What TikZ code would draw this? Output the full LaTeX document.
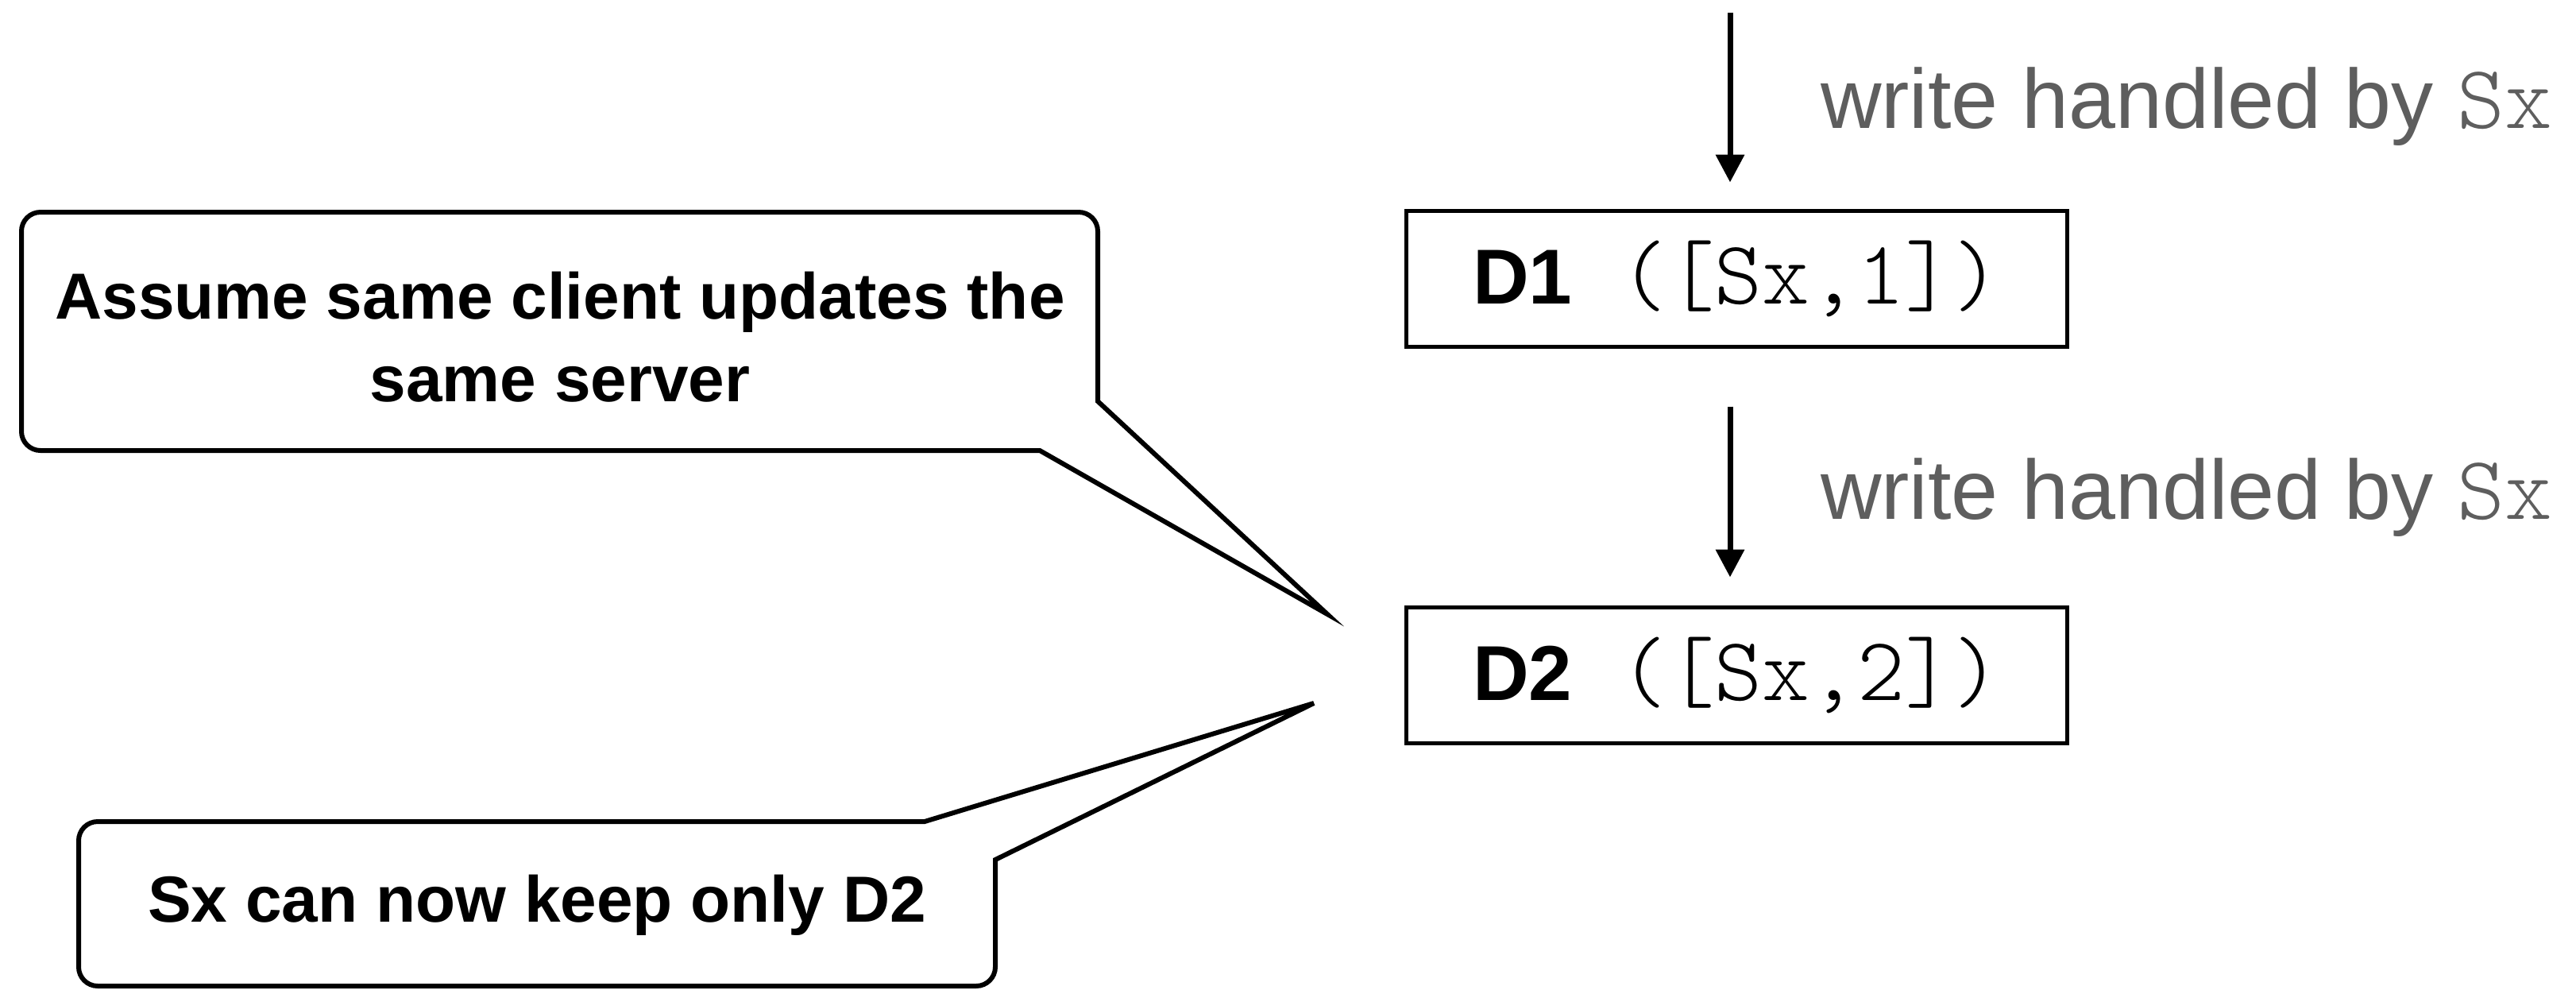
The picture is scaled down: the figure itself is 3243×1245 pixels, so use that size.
\documentclass[tikz,border=0pt]{standalone}
\usepackage{fontspec}
\setmainfont{Liberation Sans}
\setmonofont{Latin Modern Mono Light}
\usepackage{tikz}
\usetikzlibrary{arrows.meta,positioning}
\usepackage{xcolor}
\definecolor{ink}  {HTML}{000000}
\definecolor{note} {HTML}{5E5E5E}
\newcommand{\mono}[2]{{\fontsize{#1}{#1}\ttfamily #2}}

\begin{document}
\begin{tikzpicture}[x=0.25pt,y=-0.25pt,
    dbox/.style={draw=ink, line width=1.25pt, minimum width=208pt, minimum height=42.75pt,
      inner sep=0pt, font=\fontsize{24.5}{28}\selectfont},
    flow/.style={draw=ink, line width=1.75pt, -{Triangle[length=8.7pt,width=8.7pt]}},
    wlabel/.style={note, anchor=base west, font=\fontsize{26.5}{30}\selectfont},
    bubble/.style={draw=ink, line width=1.5pt, line join=miter},
    btext/.style={align=center, font=\bfseries\fontsize{20.5}{26}\selectfont}]
  \useasboundingbox (0,0) rectangle (3243,1245);
  % versions
  \node[dbox] (D1) at (2186,350.5) {\textbf{D1}\mono{28.5}{ ([Sx,1])}};
  \node[dbox, below=80.75pt of D1] (D2) {\textbf{D2}\mono{28.5}{ ([Sx,2])}};
  % writes
  \coordinate (in1) at (2178,16);
  \draw[flow, shorten >=8.25pt] (in1) -- (in1 |- D1.north);
  \draw[flow, shorten <=18.25pt, shorten >=8.75pt] (in1 |- D1.south) -- (in1 |- D2.north);
  \node[wlabel] (lab1) at (2278,161) {write handled by \mono{28.5}{Sx}};
  \node[wlabel] (lab2) at (2278,653) {write handled by \mono{28.5}{Sx}};
  % callouts
  \coordinate (tipA) at (1671,773);
  \coordinate (tipB) at (1654,885);
  \draw[bubble] (700,267) [rounded corners=6pt] -- (27,267) -- (27,567) -- (200,567)
    [sharp corners] -- (1309,567) -- (tipA) -- (1382,505) -- (1382,400)
    [rounded corners=6pt] -- (1382,267) -- cycle;
  \draw[bubble] (600,1034) [sharp corners] -- (1164,1034) -- (tipB) -- (1253,1082) -- (1253,1150)
    [rounded corners=6pt] -- (1253,1241) -- (99,1241) -- (99,1034) -- cycle;
  \node[btext] (assume) at (705,424) {Assume same client updates the\\same server};
  \node[btext] (keep) at (676,1139) {Sx can now keep only D2};
\end{tikzpicture}
\end{document}
